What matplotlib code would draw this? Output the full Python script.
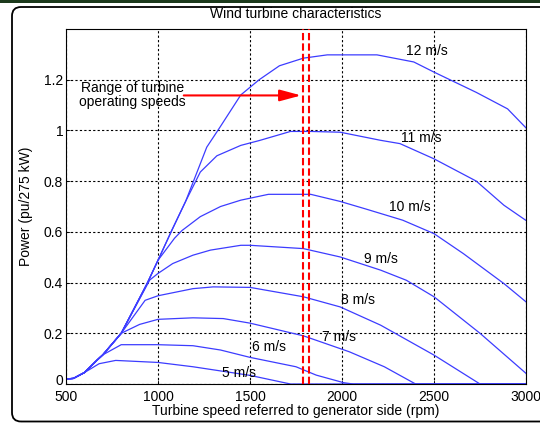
import matplotlib
matplotlib.use('Agg')
import matplotlib.pyplot as plt
from matplotlib.patches import FancyBboxPatch, Rectangle
from matplotlib.transforms import IdentityTransform, ScaledTranslation

plt.rcParams.update({'font.family': 'Liberation Sans', 'font.size': 10})

# shared rising part (maximum power envelope)
env_rpm = [500, 540, 600, 670, 700, 800, 940, 1000, 1075, 1150]
env_p = [0.02, 0.022, 0.045, 0.095, 0.115, 0.2, 0.395, 0.488, 0.606, 0.72]

rpm_5 = [500, 540, 600, 680, 770, 1000, 1190, 1500, 1720, 3000]
p_5 = [0.02, 0.022, 0.045, 0.08, 0.093, 0.085, 0.068, 0.034, 0.0, 0.0]

rpm_6 = [500, 540, 600, 670, 700, 800, 1000, 1190, 1340, 1500, 1750, 1860, 2010, 2060, 3000]
p_6 = [0.02, 0.022, 0.045, 0.095, 0.115, 0.155, 0.155, 0.151, 0.134, 0.105, 0.068, 0.035, 0.005, 0.0, 0.0]

rpm_7 = [500, 540, 600, 670, 700, 800, 900, 1000, 1190, 1355, 1500, 1790, 2040, 2230, 2400, 3000]
p_7 = [0.02, 0.022, 0.045, 0.095, 0.115, 0.2, 0.235, 0.255, 0.261, 0.258, 0.24, 0.19, 0.127, 0.068, 0.0, 0.0]

rpm_8 = [500, 540, 600, 670, 700, 800, 930, 1000, 1190, 1300, 1500, 1790, 1990, 2210, 2500, 2750, 3000]
p_8 = [0.02, 0.022, 0.045, 0.095, 0.115, 0.2, 0.33, 0.348, 0.376, 0.383, 0.381, 0.344, 0.304, 0.232, 0.114, 0.0, 0.0]

rpm_9 = [500, 540, 600, 670, 700, 800, 955, 1000, 1080, 1190, 1285, 1450, 1500, 1790, 1990, 2210, 2350, 2500, 2750, 3000]
p_9 = [0.02, 0.022, 0.045, 0.095, 0.115, 0.2, 0.41, 0.436, 0.475, 0.508, 0.528, 0.547, 0.547, 0.534, 0.501, 0.449, 0.409, 0.344, 0.2, 0.042]

rpm_10 = env_rpm[:8] + [1090, 1130, 1230, 1340, 1450, 1600, 1830, 1990, 2130, 2330, 2500, 2660, 2880, 3000]
p_10 = env_p[:8] + [0.575, 0.605, 0.66, 0.70, 0.725, 0.748, 0.748, 0.72, 0.69, 0.646, 0.593, 0.514, 0.396, 0.324]

rpm_11 = env_rpm + [1230, 1320, 1450, 1550, 1720, 1830, 1990, 2210, 2315, 2500, 2730, 2880, 3000]
p_11 = env_p + [0.836, 0.90, 0.941, 0.96, 0.996, 0.996, 0.993, 0.961, 0.948, 0.888, 0.80, 0.705, 0.645]

rpm_12 = env_rpm + [1265, 1337, 1450, 1550, 1660, 1790, 1920, 2190, 2390, 2500, 2730, 2900, 3000]
p_12 = env_p + [0.934, 1.013, 1.14, 1.2, 1.255, 1.285, 1.298, 1.298, 1.27, 1.23, 1.15, 1.085, 1.01]

curves = [(rpm_5, p_5), (rpm_6, p_6), (rpm_7, p_7), (rpm_8, p_8), (rpm_9, p_9),
          (rpm_10, p_10), (rpm_11, p_11), (rpm_12, p_12)]

labels = ['5 m/s', '6 m/s', '7 m/s', '8 m/s', '9 m/s', '10 m/s', '11 m/s', '12 m/s']
label_x = [1440, 1603, 1984, 2089, 2209, 2370, 2433, 2459]
label_y = [0.042, 0.147, 0.186, 0.331, 0.491, 0.698, 0.97, 1.315]

range_lo, range_hi = 1790, 1822

xticks = [500, 1000, 1500, 2000, 2500, 3000]
yticks = [0, 0.2, 0.4, 0.6, 0.8, 1.0, 1.2]
ytick_labels = ['0', '0.2', '0.4', '0.6', '0.8', '1', '1.2']

fig = plt.figure(figsize=(5.4, 4.25), dpi=100)
ax = fig.add_axes([66/540, 41/425, 460/540, 355/425])

for r, p in curves:
    ax.plot(r, p, color='#3c3cff', lw=0.9)

for lx, ly, t in zip(label_x, label_y, labels):
    ax.text(lx, ly, t, ha='center', va='center')

for xv in (range_lo, range_hi):
    ax.axvline(xv, color='red', lw=1.5, ls=(0, (3.5, 1.5)), zorder=3)

ax.annotate('', xy=(1778, 1.138), xytext=(1140, 1.138),
            arrowprops=dict(arrowstyle='-|>,head_length=1.3,head_width=0.35',
                            color='red', lw=1.5, shrinkA=0, shrinkB=0))
ax.text(860, 1.138, 'Range of turbine\noperating speeds', ha='center', va='center',
        linespacing=1.0)

ax.set_xlim(500, 3000)
ax.set_ylim(0, 1.4)
ax.set_xticks(xticks)
ax.set_xticklabels([str(v) for v in xticks])
ax.set_yticks(yticks)
ax.set_yticklabels(ytick_labels)
ax.tick_params(direction='in', length=3, width=0.6, labelsize=10)
ax.tick_params(axis='x', pad=4)
ax.tick_params(axis='y', pad=2)
ax.grid(True, color='black', ls=(0, (2, 2)), lw=0.8)
for s in ax.spines.values():
    s.set_linewidth(0.8)

# nudge the "0" label up a little so it does not sit on "500"
zero_lbl = ax.get_yticklabels()[0]
zero_lbl.set_transform(zero_lbl.get_transform() + ScaledTranslation(0, 3/72, fig.dpi_scale_trans))

ax.set_title('Wind turbine characteristics', fontsize=10, pad=8)
ax.set_xlabel('Turbine speed referred to generator side (rpm)', labelpad=0)
ax.set_ylabel('Power (pu/275 kW)', labelpad=8)

# screenshot frame
fig.add_artist(FancyBboxPatch((12, 3.5), 560, 414.5, boxstyle='round,pad=0,rounding_size=9',
                              transform=IdentityTransform(), fill=False, ec='black', lw=1.3))
fig.add_artist(Rectangle((0, 422), 540, 3, transform=IdentityTransform(),
                         color='#1c3a1c', lw=0))

fig.savefig('out.png', dpi=100)
